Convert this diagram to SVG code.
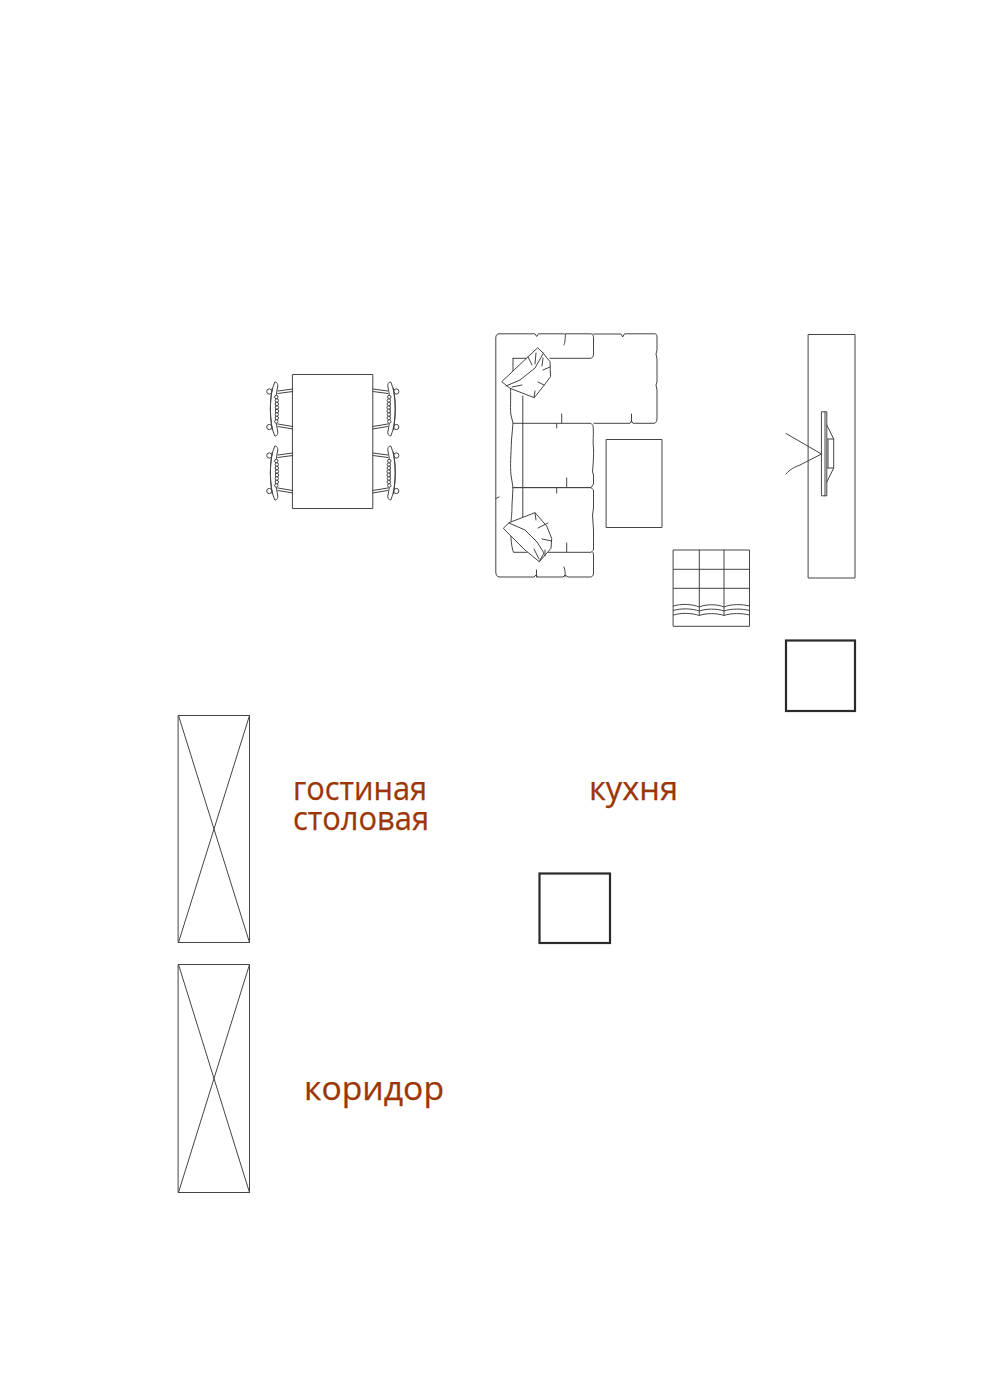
<svg xmlns="http://www.w3.org/2000/svg" xmlns:xlink="http://www.w3.org/1999/xlink" width="986" height="1400" viewBox="0 0 986 1400">
<style>
.l{fill:none;stroke:#444;stroke-width:1;stroke-linejoin:round;stroke-linecap:round}
.f{fill:#fff;stroke:#444;stroke-width:1;stroke-linejoin:round}
.h{fill:none;stroke:#2a2a2a;stroke-width:2.2}
.t{font-family:"Open Sans",sans-serif;fill:#9c3606;stroke:#9c3606;stroke-width:.25}
</style>
<defs>
<g id="chair">
<path class="l" d="M0-20L-15-18M0-17.500L-15-15.500M0 20L-15 17.500M0 17.500L-15 15"/>
<circle class="f" cx="-23.500" cy="-17.500" r="2.600"/><circle class="f" cx="-23.500" cy="18" r="2.600"/>
<path class="f" d="M-18-27C-24-14-24 14-18 27C-15.500 27-15 25-15 23C-18 10-18-10-15-23C-15-25-15.500-27-18-27Z"/>
<path class="l" d="M-20.500-21C-23-8-23 8-20.500 21"/>
<g class="f"><circle cx="-16.500" cy="-12" r="1.700"/><circle cx="-16" cy="-8.500" r="1.700"/><circle cx="-16" cy="-5" r="1.700"/><circle cx="-15.800" cy="-1.500" r="1.700"/><circle cx="-15.800" cy="2" r="1.700"/><circle cx="-16" cy="5.500" r="1.700"/><circle cx="-16" cy="9" r="1.700"/><circle cx="-16.500" cy="12.500" r="1.700"/></g>
</g>
</defs>
<rect width="986" height="1400" fill="#fff"/>
<g id="dining">
<rect class="l" x="292.800" y="374.500" width="80" height="134"/>
<use xlink:href="#chair" href="#chair" transform="translate(292.800 409)"/>
<use xlink:href="#chair" href="#chair" transform="translate(292.800 473)"/>
<use xlink:href="#chair" href="#chair" transform="translate(372.800 409) scale(-1 1)"/>
<use xlink:href="#chair" href="#chair" transform="translate(372.800 473) scale(-1 1)"/>
</g>
<g id="sofa">
<path class="l" d="M499 333.800H535L536.700 336.500L538.500 333.800H564C565 334 565 335 566 333.800H591C593 334 593.500 336 593.500 338V354C593.500 357 592 358.300 590 358.300H550"/>
<path class="l" d="M593.500 334H621L622.700 337L624.500 333.800H655C656.500 334 657 335 657 337V350L656 354L657 359V382L656 385L657 390V418C657 421 656 423.300 654 423.300H633L631.500 421L630 423.300H594"/>
<path class="l" d="M565.500 334C565 340 565 343 564 345M631.500 422V414M561.700 423V414M556.700 423.500V428"/>
<path class="l" d="M513 423.300H591L593 425.500C594 435 592.500 440 593.500 448C594 455 593 465 592.500 472L593.500 475V484L591 487.500H514"/>
<path class="l" d="M512.500 487.700H591L593.500 490V508L592.500 515L593.500 530V540L593.500 550L591 552.300H548"/>
<path class="l" d="M566.700 487.500V478M556.700 487.700V493M566.700 552V543"/>
<path class="l" d="M593 552.500L593.500 555V573C593.500 576 592 577 590 577H568L565 575L563 577H537L536.500 574.500L534 577H500C497 577 495.800 575 495.800 572V338C495.800 335 497 333.800 499 333.800"/>
<path class="l" d="M565 577C565.500 572 565 570 564 567M536.500 577V570M495.800 498.500L499 497"/>
<path class="l" d="M510.500 387C511 400 510 410 511 415L513 423.300L511.500 440C511 455 510 465 511 475L513 487.700L512 505C512 515 511 520 511 522"/>
<path class="l" d="M522.800 396V520"/>
<path class="l" d="M513 358.300H527M513 358.300V371M510.500 530C511 540 511.500 547 513.500 552.300H527"/>
<g id="pillow-top"><path class="f" d="M501.700 381.700L537.700 347.700L543.300 353.300L550 361.700L550.500 376.700L544.300 385L534.300 397.700L510 388.300Z"/>
<path class="l" d="M506 386L520 380L535 368L543.500 353M512 387L522 385M528 357L532 365M536 353L535 364M543 358L542 366M550 367L543 370M538 382L544 385M534 397.700L535 391"/></g>
<g id="pillow-bottom"><path class="f" d="M503.300 528.300L509 522.700L535 512.700L546.700 526L551.700 538.300L551 548.300L539.300 561.700L525 550Z"/>
<path class="l" d="M509 523L525 530L537 542L544 553L539.300 561.700M535 512.700L536 520M548 523L538 528M551.700 541L542 539M534 549L539 559M545 556L545 550"/></g>
</g>
<g id="rug"><rect class="l" x="606.500" y="439.500" width="55.500" height="88"/></g>
<g id="rack">
<rect class="l" x="673.500" y="550" width="76" height="76.300"/>
<path class="l" d="M699.300 550V615M724 550V615M673.500 569.300H749.500M673.500 588.300H749.500"/>
<path class="l" d="M673.500 606C681 603.500 692 604 699.300 607C706 604 717 604 724 607C731 604 742 604 749.500 606M673.500 610.500C681 608 692 608.500 699.300 611C706 608.500 717 608.500 724 611C731 608.500 742 608.500 749.500 610.500M673.500 615C681 612.500 692 613 699.300 615.500C706 613 717 613 724 615.500C731 613 742 613 749.500 615"/>
</g>
<g id="tv">
<rect class="l" x="808.500" y="334.500" width="46.500" height="243.500"/>
<rect class="l" x="821.800" y="411.800" width="5" height="84"/>
<path class="l" d="M825 411.800V495.800M826.800 425L833.700 439V468L826.800 482M828 439H833.700M828 468H833.700M828 439V468"/>
<path class="l" d="M821.500 454L786 433.500M821.500 454L800 465C795 467 790 469 786 474"/>
</g>
<g id="square-1"><rect class="h" x="786" y="640.500" width="69" height="70.500"/></g>
<g id="square-2"><rect class="h" x="539.500" y="873.500" width="70.500" height="69.500"/></g>
<g id="void-1"><rect class="l" x="178.500" y="715.500" width="71" height="227"/><path class="l" d="M178.500 715.500L249.500 942.500M249.500 715.500L178.500 942.500"/></g>
<g id="void-2"><rect class="l" x="178.500" y="964.500" width="71" height="228"/><path class="l" d="M178.500 964.500L249.500 1192.500M249.500 964.500L178.500 1192.500"/></g>
<g id="labels">
<text class="t" x="293" y="800" font-size="33" textLength="134" lengthAdjust="spacingAndGlyphs">гостиная</text>
<text class="t" x="293" y="830" font-size="33" textLength="136" lengthAdjust="spacingAndGlyphs">столовая</text>
<text class="t" x="589" y="800" font-size="33" textLength="89" lengthAdjust="spacingAndGlyphs">кухня</text>
<text class="t" x="304" y="1100" font-size="33.500" textLength="140" lengthAdjust="spacingAndGlyphs">коридор</text>
</g>
</svg>
